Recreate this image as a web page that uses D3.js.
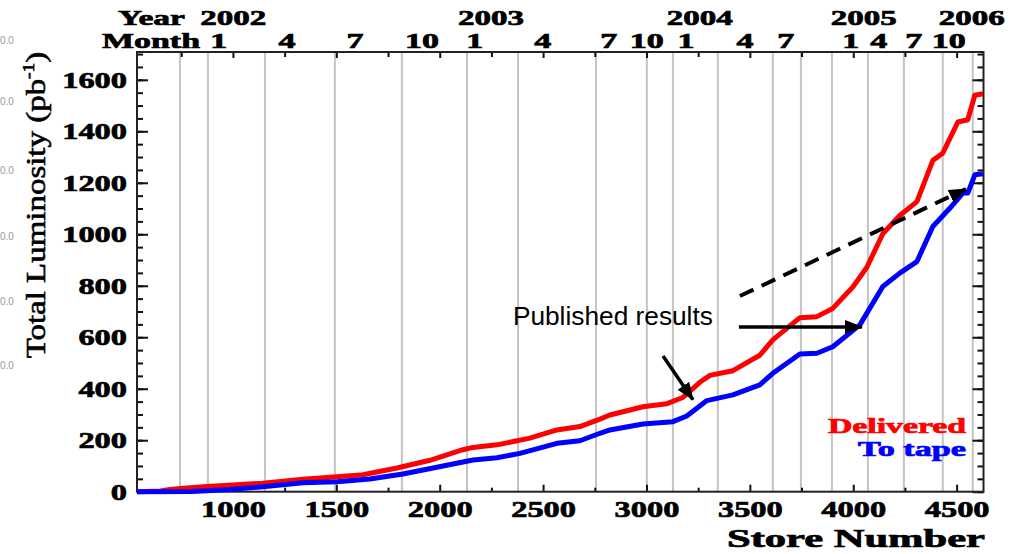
<!DOCTYPE html>
<html>
<head>
<meta charset="utf-8">
<script src="https://cdn.jsdelivr.net/npm/d3@7"></script>
<style>
    body{margin:0;background:#fff;}
</style>
</head>
<body>
<svg id="chart" width="1016" height="554"></svg>
<script>

// curves (store number -> total luminosity, pb^-1)
let storeDelivered = [536, 650, 695, 760, 873, 1000, 1145, 1338, 1503, 1629, 1793, 1953, 2112, 2161, 2277, 2436, 2567, 2678, 2775, 2823, 2983, 3099, 3176, 3258, 3307, 3418, 3548, 3611, 3742, 3824, 3901, 3998, 4066, 4143, 4225, 4308, 4385, 4433, 4506, 4554, 4588, 4627];
let lumiDelivered  = [0, 3, 9, 13, 20, 26, 33, 48, 58, 66, 92, 122, 163, 172, 182, 208, 240, 253, 282, 298, 330, 342, 366, 425, 452, 470, 530, 590, 676, 680, 712, 795, 872, 1002, 1073, 1127, 1287, 1315, 1436, 1445, 1540, 1546];

let storeTape = [536, 800, 873, 985, 1145, 1338, 1503, 1662, 1822, 1986, 2161, 2277, 2388, 2567, 2678, 2775, 2823, 2983, 3128, 3195, 3292, 3418, 3548, 3611, 3742, 3824, 3901, 4032, 4143, 4225, 4308, 4385, 4467, 4530, 4554, 4588, 4627];
let lumiTape  = [0, 1, 4, 9, 19, 35, 39, 49, 69, 95, 123, 132, 149, 188, 198, 227, 240, 263, 272, 294, 354, 376, 415, 460, 535, 538, 563, 648, 797, 849, 894, 1030, 1101, 1160, 1160, 1231, 1235];

// axes
let xMajor = [1000, 1500, 2000, 2500, 3000, 3500, 4000, 4500];
let xMinor = [750, 1250, 1750, 2250, 2750, 3250, 3750, 4250];
let yMajor = [0, 200, 400, 600, 800, 1000, 1200, 1400, 1600];
let yMinor = d3.range(0, 1701, 50);

// month boundaries (vertical grid) and calendar labels on top
let gridStores  = [744, 879, 1155, 1493, 1817, 2132, 2379, 2756, 3002, 3128, 3345, 3611, 3747, 3897, 4071, 4245, 4433, 4578];
let monthLabels = ["1", "4", "7", "10", "1", "4", "7", "10", "1", "4", "7", "1", "4", "7", "10"];
let monthStores = [932, 1261, 1590, 1914, 2170, 2499, 2818, 3002, 3191, 3476, 3674, 3988, 4124, 4293, 4462];
let yearLabels  = ["2002", "2003", "2004", "2005", "2006"];
let yearStores  = [1002, 2248, 3258, 4051, 4573];

// annotations (store, luminosity)
let arrowSolid = [
    {x1: 3080, y1: 527, x2: 3225, y2: 357},
    {x1: 3447, y1: 640, x2: 4042, y2: 640}
];
let arrowDashed = [{x1: 3452, y1: 760, x2: 4545, y2: 1176}];
let noteText = {label: "Published results", store: 2354, lumi: 648};

let serif = "'Liberation Serif', 'Times New Roman', serif";
let charW = 16.2;

let svg = d3.select("#chart");
svg.append("rect").attr("width", 1016).attr("height", 554).attr("fill", "#fff");

let margin = {top: 52, right: 32.5, bottom: 62.3, left: 137};
let W = 1016, H = 554;

let x = d3.scaleLinear().domain([536, 4630]).range([margin.left, W - margin.right]);
let y = d3.scaleLinear().domain([0, 1708]).range([H - margin.bottom, margin.top]);

// stray labels of a neighbouring figure at the left edge
let stray = [44, 105, 174, 240, 305, 369];
svg.append("g").selectAll("text").data(stray).enter().append("text")
    .attr("x", 0).attr("y", d => d)
    .attr("font-family", "'Liberation Sans', sans-serif")
    .attr("font-size", 10)
    .attr("fill", "#999")
    .text("0.0");

// grid
svg.append("g").selectAll("line").data(gridStores).enter().append("line")
    .attr("x1", d => x(d)).attr("x2", d => x(d))
    .attr("y1", y.range()[1]).attr("y2", y.range()[0])
    .attr("stroke", "#c4c4c4").attr("stroke-width", 2);

function heavy(sel){
    sel.attr("font-family", serif).attr("font-weight", "bold")
        .attr("stroke-width", 0.7).attr("lengthAdjust", "spacingAndGlyphs");
}

function tickStyle(g){
    g.select(".domain").remove();
    g.selectAll(".tick line").attr("stroke", "#111").attr("stroke-width", 2);
    g.selectAll(".tick text")
        .call(heavy)
        .attr("font-size", 24).attr("fill", "#000").attr("stroke", "#000")
        .attr("textLength", function(){ return this.textContent.length * charW; });
}

let x0 = x.range()[0], x1 = x.range()[1];
let yB = y.range()[0], yT = y.range()[1];
let fmt = d3.format("d");

// left
svg.append("g").attr("transform", `translate(${x0},0)`)
    .call(d3.axisLeft(y).tickValues(yMinor).tickSizeInner(-6).tickSizeOuter(0).tickFormat(""))
    .call(tickStyle);
svg.append("g").attr("transform", `translate(${x0},0)`)
    .call(d3.axisLeft(y).tickValues(yMajor).tickSizeInner(-11).tickSizeOuter(0).tickPadding(10).tickFormat(fmt))
    .call(tickStyle);
// right
svg.append("g").attr("transform", `translate(${x1},0)`)
    .call(d3.axisRight(y).tickValues(yMinor).tickSizeInner(-6).tickSizeOuter(0).tickFormat(""))
    .call(tickStyle);
svg.append("g").attr("transform", `translate(${x1},0)`)
    .call(d3.axisRight(y).tickValues(yMajor).tickSizeInner(-11).tickSizeOuter(0).tickFormat(""))
    .call(tickStyle);
// bottom
svg.append("g").attr("transform", `translate(0,${yB})`)
    .call(d3.axisBottom(x).tickValues(xMinor).tickSizeInner(-4).tickSizeOuter(0).tickFormat(""))
    .call(tickStyle);
svg.append("g").attr("transform", `translate(0,${yB})`)
    .call(d3.axisBottom(x).tickValues(xMajor).tickSizeInner(-7).tickSizeOuter(0).tickPadding(8).tickFormat(fmt))
    .call(tickStyle);
// top
svg.append("g").attr("transform", `translate(0,${yT})`)
    .call(d3.axisTop(x).tickValues(xMinor).tickSizeInner(-5).tickSizeOuter(0).tickFormat(""))
    .call(tickStyle);
svg.append("g").attr("transform", `translate(0,${yT})`)
    .call(d3.axisTop(x).tickValues(xMajor).tickSizeInner(-6).tickSizeOuter(0).tickFormat(""))
    .call(tickStyle);

// frame
svg.append("rect")
    .attr("x", x0).attr("y", yT).attr("width", x1 - x0).attr("height", yB - yT)
    .attr("fill", "none").attr("stroke", "#222").attr("stroke-width", 2);

// curves
let line = d3.line().x(d => x(d[0])).y(d => y(d[1]));
let delivered = d3.zip(storeDelivered, lumiDelivered);
let tape = d3.zip(storeTape, lumiTape);

svg.append("path").datum(delivered).attr("d", line)
    .attr("fill", "none").attr("stroke", "#ff0000").attr("stroke-width", 5)
    .attr("stroke-linejoin", "round");
svg.append("path").datum(tape).attr("d", line)
    .attr("fill", "none").attr("stroke", "#0000ff").attr("stroke-width", 5)
    .attr("stroke-linejoin", "round");

// calendar rows
let topText = svg.append("g")
    .attr("font-size", 22).attr("fill", "#000").attr("stroke", "#000");
topText.append("text").attr("x", 118).attr("y", 25).attr("textLength", 67)
    .call(heavy).text("Year");
topText.append("text").attr("x", 102).attr("y", 48).attr("textLength", 98)
    .call(heavy).text("Month");
topText.selectAll("text.year").data(yearLabels).enter().append("text")
    .attr("class", "year")
    .attr("x", (d, i) => x(yearStores[i])).attr("y", 25)
    .attr("text-anchor", "middle")
    .attr("textLength", d => d.length * 16.5)
    .call(heavy)
    .text(d => d);
topText.selectAll("text.month").data(monthLabels).enter().append("text")
    .attr("class", "month")
    .attr("x", (d, i) => x(monthStores[i])).attr("y", 48)
    .attr("text-anchor", "middle")
    .attr("textLength", d => d.length * 17)
    .call(heavy)
    .text(d => d);

// axis titles
svg.append("text")
    .attr("x", 727).attr("y", 547)
    .attr("font-size", 25).attr("fill", "#000").attr("stroke", "#000")
    .attr("textLength", 258)
    .call(heavy)
    .text("Store Number");

let yTitle = svg.append("text")
    .attr("transform", "translate(45,205) rotate(-90) scale(1.22,1)")
    .attr("text-anchor", "middle")
    .attr("font-family", serif).attr("font-size", 27)
    .attr("stroke", "#000").attr("stroke-width", 0.6);
yTitle.append("tspan").text("Total Luminosity (pb");
yTitle.append("tspan").attr("dy", -11).attr("font-size", 16).text("-1");
yTitle.append("tspan").attr("dy", 11).text(")");

// legend
svg.append("text").attr("x", 828).attr("y", 433)
    .attr("font-size", 20)
    .attr("fill", "#ff0000").attr("stroke", "#ff0000")
    .attr("textLength", 138)
    .call(heavy)
    .text("Delivered");
svg.append("text").attr("x", 858).attr("y", 456)
    .attr("font-size", 20)
    .attr("fill", "#0000ff").attr("stroke", "#0000ff")
    .attr("textLength", 108)
    .call(heavy)
    .text("To tape");

// annotations
svg.append("defs").append("marker")
    .attr("id", "head")
    .attr("markerUnits", "userSpaceOnUse")
    .attr("markerWidth", 18).attr("markerHeight", 14)
    .attr("refX", 17).attr("refY", 7)
    .attr("orient", "auto")
    .append("path").attr("d", "M0,0 L18,7 L0,14 Z").attr("fill", "#000");

svg.append("g").selectAll("line").data(arrowSolid).enter().append("line")
    .attr("x1", d => x(d.x1)).attr("y1", d => y(d.y1))
    .attr("x2", d => x(d.x2)).attr("y2", d => y(d.y2))
    .attr("stroke", "#000").attr("stroke-width", 3.5)
    .attr("marker-end", "url(#head)");

svg.append("g").selectAll("line").data(arrowDashed).enter().append("line")
    .attr("x1", d => x(d.x1)).attr("y1", d => y(d.y1))
    .attr("x2", d => x(d.x2)).attr("y2", d => y(d.y2))
    .attr("stroke", "#000").attr("stroke-width", 4)
    .attr("stroke-dasharray", "15,9")
    .attr("marker-end", "url(#head)");

svg.append("text")
    .attr("x", x(noteText.store)).attr("y", y(noteText.lumi))
    .attr("font-family", "'Liberation Sans', Arial, sans-serif")
    .attr("font-size", 25)
    .attr("textLength", 200).attr("lengthAdjust", "spacingAndGlyphs")
    .text(noteText.label);

</script>
</body>
</html>
